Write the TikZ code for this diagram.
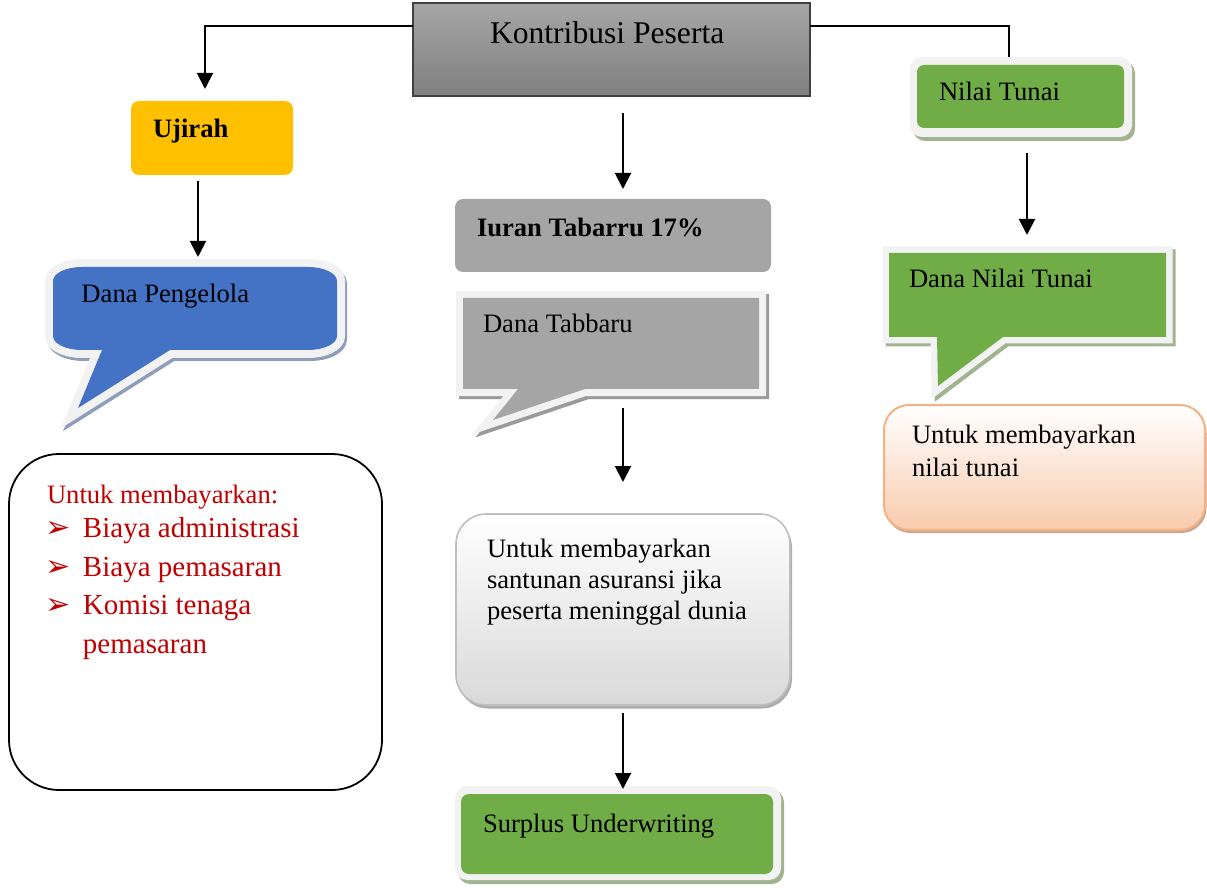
\documentclass[tikz,border=0pt]{standalone}
\usepackage{fontspec}
\setmainfont{Liberation Serif}
\newfontfamily\symfont{DejaVu Sans}
\usetikzlibrary{arrows.meta,calc}
\definecolor{cYellow}{HTML}{FFC000}
\definecolor{cGray}{HTML}{A5A5A5}
\definecolor{cBlue}{HTML}{4472C4}
\definecolor{cGreen}{HTML}{70AD47}
\definecolor{cRed}{HTML}{C00000}
\definecolor{cFrame}{HTML}{F2F2F2}
\definecolor{shBlue}{HTML}{8E9DB8}
\definecolor{shGreen}{HTML}{A2B392}
\definecolor{shGray}{HTML}{9A9A9A}
\definecolor{kTop}{HTML}{A6A6A6}
\definecolor{kBot}{HTML}{7F7F7F}
\definecolor{kLine}{HTML}{404040}
\definecolor{oLine}{HTML}{F4B183}
\definecolor{oBot}{HTML}{F8CBAD}
\definecolor{oShadow}{HTML}{C9A690}
\definecolor{mLine}{HTML}{BFBFBF}
\definecolor{mBot}{HTML}{D9D9D9}
\definecolor{mShadow}{HTML}{ADADAD}
\def\pathPengelola{(82,267) -- (308,267) arc[start angle=90,end angle=0,x radius=14.5pt,y radius=7pt] -- (337,336) arc[start angle=0,end angle=-90,x radius=14.5pt,y radius=7pt] -- (170,350) -- (78,408) -- (102,350) -- (82,350) arc[start angle=-90,end angle=-180,x radius=14.5pt,y radius=7pt] -- (53,281) arc[start angle=180,end angle=90,x radius=14.5pt,y radius=7pt] -- cycle}
\def\pathTabbaru{(463,298) -- (759,298) -- (759,389) -- (585,389) -- (493,420) -- (518,389) -- (463,389) -- cycle}
\def\pathDNT{(889,253) -- (1166,253) -- (1166,337) -- (1003,337) -- (938,386) -- (937,337) -- (889,337) -- cycle}
\begin{document}
\begin{tikzpicture}[x=0.5pt,y=-0.5pt,
  box/.style={inner sep=0pt, outer sep=0pt, rectangle},
  txt/.style={anchor=base west, inner sep=0pt, outer sep=0pt, font=\fontsize{13.3}{15.5}\selectfont},
  btxt/.style={txt, font=\fontsize{13.3}{15.5}\selectfont\bfseries},
  ltxt/.style={anchor=base west, inner sep=0pt, outer sep=0pt, text=cRed, font=\fontsize{14.5}{17}\selectfont},
  bul/.style={anchor=base west, inner sep=0pt, outer sep=0pt, text=cRed, font=\symfont\fontsize{15}{17}\selectfont},
  conn/.style={line width=1pt, draw=black},
  arr/.style={conn, -{Triangle[width=8pt,length=8pt]}},
  line join=miter]
\useasboundingbox (0,0) rectangle (1207,888);

% ---- top box
\node[box, draw=kLine, line width=0.7pt, top color=kTop, bottom color=kBot,
  minimum width=198.5pt, minimum height=46.5pt] (kontribusi) at (611.5,49.5) {};
\node[txt, font=\fontsize{15.8}{18}\selectfont] (t-kontribusi) at (490,44) {Kontribusi Peserta};

% ---- Ujirah
\node[box, fill=cYellow, rounded corners=4pt, minimum width=81pt, minimum height=37pt] (ujirah) at (212,138) {};
\node[btxt] (t-ujirah) at (153,138) {Ujirah};

% ---- Nilai Tunai
\node[box, fill=shGreen, rounded corners=6pt, minimum width=111pt, minimum height=40pt] (nilai-sh) at (1024,101) {};
\node[box, fill=cFrame, rounded corners=6pt, minimum width=111pt, minimum height=40pt] (nilai-fr) at (1021,97) {};
\node[box, fill=cGreen, rounded corners=3.5pt, minimum width=103.5pt, minimum height=31.5pt] (nilai) at (1020.5,96.5) {};
\node[txt] (t-nilai) at (939,101) {Nilai Tunai};

% ---- Iuran Tabarru
\node[box, fill=cGray, rounded corners=4pt, minimum width=158pt, minimum height=36.5pt] (iuran) at (613,235.5) {};
\node[btxt] (t-iuran) at (477,237) {Iuran Tabarru 17\%};

% ---- Dana Pengelola callout
\draw[line width=8pt, draw=shBlue, shift={(2,3)}] \pathPengelola;
\draw[line width=8pt, draw=cFrame] \pathPengelola;
\fill[cBlue] \pathPengelola;
\node[box, minimum width=142pt, minimum height=41.5pt] (pengelola) at (195,308.5) {};
\node[txt] (t-pengelola) at (81.5,303) {Dana Pengelola};

% ---- Dana Tabbaru callout
\draw[line width=7pt, draw=shGray, shift={(3,3)}] \pathTabbaru;
\draw[line width=7pt, draw=cFrame] \pathTabbaru;
\fill[cGray] \pathTabbaru;
\node[box, minimum width=148pt, minimum height=45.5pt] (tabbaru) at (611,343.5) {};
\node[txt] (t-tabbaru) at (483,333) {Dana Tabbaru};

% ---- Dana Nilai Tunai callout
\draw[line width=6.5pt, draw=shGreen, shift={(3,3)}] \pathDNT;
\draw[line width=6.5pt, draw=cFrame] \pathDNT;
\fill[cGreen] \pathDNT;
\node[box, minimum width=138.5pt, minimum height=42pt] (dnt) at (1027.5,295) {};
\node[txt] (t-dnt) at (909,287) {Dana Nilai Tunai};

% ---- orange box
\node[box, fill=oShadow, rounded corners=12.5pt, minimum width=160.5pt, minimum height=62.5pt] (orange-sh) at (1046,470.5) {};
\node[box, draw=oLine, line width=1pt, top color=white, bottom color=oBot, rounded corners=12.5pt,
  minimum width=160.5pt, minimum height=62.5pt] (orange) at (1044.5,467.5) {};
\node[txt] (t-orange1) at (912,444) {Untuk membayarkan};
\node[txt] (t-orange2) at (912,476) {nilai tunai};

% ---- middle box
\node[box, fill=mShadow, rounded corners=15pt, minimum width=167pt, minimum height=95.5pt] (santunan-sh) at (625,613) {};
\node[box, draw=mLine, line width=0.8pt, top color=white, bottom color=mBot, rounded corners=15pt,
  minimum width=167pt, minimum height=95.5pt] (santunan) at (623,609.5) {};
\node[txt] (t-s1) at (487,557) {Untuk membayarkan};
\node[txt] (t-s2) at (487,588) {santunan asuransi jika};
\node[txt] (t-s3) at (487,619) {peserta meninggal dunia};

% ---- Surplus
\node[box, fill=shGreen, rounded corners=6pt, minimum width=163pt, minimum height=47pt] (surplus-sh) at (621,837) {};
\node[box, fill=cFrame, rounded corners=6pt, minimum width=163pt, minimum height=47pt] (surplus-fr) at (618,833) {};
\node[box, fill=cGreen, rounded corners=4pt, minimum width=156pt, minimum height=40pt] (surplus) at (617,834) {};
\node[txt] (t-surplus) at (483,832) {Surplus Underwriting};

% ---- left box
\node[box, draw=black, line width=0.9pt, fill=white, rounded corners=25pt,
  minimum width=186.5pt, minimum height=168pt] (biaya) at (195.5,622) {};
\node[txt, text=cRed] (t-b0) at (47,503) {Untuk membayarkan:};
\node[bul] (b1) at (46,537) {➢};
\node[bul] (b2) at (46,576) {➢};
\node[bul] (b3) at (46,614) {➢};
\node[ltxt] (t-b1) at (83,537) {Biaya administrasi};
\node[ltxt] (t-b2) at (83,576) {Biaya pemasaran};
\node[ltxt] (t-b3) at (83,614) {Komisi tenaga};
\node[ltxt] (t-b4) at (83,653) {pemasaran};

% ---- connectors
\draw[arr] ($(kontribusi.north west)+(0,23)$) -| ($(ujirah.north)+(-7,-12)$);
\draw[conn] ($(kontribusi.north east)+(0,23)$) -| ($(nilai-fr.north)+(-12,0)$);
\draw[arr] ($(kontribusi.south)+(11.5,17)$) -- ($(iuran.north)+(10,-10)$);
\draw[arr] ($(ujirah.south)+(-14,6)$) -- ($(pengelola.north)+(3,-10)$);
\draw[arr] ($(nilai.south)+(6.5,25)$) -- ($(dnt.north)+(-0.5,-18)$);
\draw[arr] ($(tabbaru.south)+(12,19)$) -- ($(santunan.north)+(0,-32)$);
\draw[arr] ($(santunan.south)+(0,8)$) -- ($(surplus.north)+(6,-5)$);
\end{tikzpicture}
\end{document}
